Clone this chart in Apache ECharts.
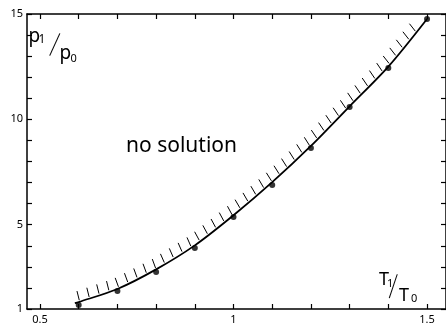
<!DOCTYPE html>
<html>
<head>
<meta charset="utf-8">
<script src="https://cdn.jsdelivr.net/npm/echarts@6/dist/echarts.min.js"></script>
<style>
html,body{margin:0;padding:0;background:#fff;}
#c{width:446px;height:326px;}
</style>
</head>
<body>
<div id="c"></div>
<script>
// measured points
const pointX = [0.6, 0.7, 0.8, 0.9, 1.0, 1.1, 1.2, 1.3, 1.4, 1.5];
const pointY = [1.19, 1.85, 2.76, 3.90, 5.37, 6.89, 8.64, 10.59, 12.44, 14.76];
// boundary curve
const curveX = [0.59, 0.6, 0.7, 0.8, 0.9, 1.0, 1.1, 1.2, 1.3, 1.4, 1.5];
const curveY = [1.28, 1.33, 1.95, 2.88, 4.02, 5.45, 7.02, 8.74, 10.62, 12.50, 14.76];
// axis ticks and labels
const xTicks = [0.5, 0.6, 0.7, 0.8, 0.9, 1.0, 1.1, 1.2, 1.3, 1.4, 1.5];
const xLabels = [0.5, 1, 1.5];
const yTicks = [1, 2, 3, 4, 5, 6, 7, 8, 9, 10, 11, 12, 13, 14, 15];
const yLabels = [1, 5, 10, 15];
const regionText = 'no solution';

const chart = echarts.init(document.getElementById('c'), null, {renderer: 'canvas'});
const FONT = 'Noto Sans';
const lineStyle = {color: '#000', width: 1.5};

function hatchRender(params, api) {
  const pts = curveX.map((x, i) => api.coord([x, curveY[i]]));
  const segs = [];
  let total = 0;
  for (let i = 1; i < pts.length; i++) {
    const dx = pts[i][0] - pts[i-1][0], dy = pts[i][1] - pts[i-1][1];
    const L = Math.hypot(dx, dy);
    segs.push({a: pts[i-1], dx, dy, L, s: total});
    total += L;
  }
  const children = [];
  const spacing = 10.4, start = 5, len = 9.5, gap = 1.5;
  for (let s = start; s < total - 10; s += spacing) {
    let seg = segs[segs.length - 1];
    for (const g of segs) { if (s >= g.s && s <= g.s + g.L) { seg = g; break; } }
    const t = (s - seg.s) / seg.L;
    const px = seg.a[0] + seg.dx * t, py = seg.a[1] + seg.dy * t;
    const slope = Math.atan2(-seg.dy, seg.dx);
    const phi = slope * 0.75;
    const ux = -Math.sin(phi), uy = -Math.cos(phi);
    children.push({
      type: 'line',
      shape: {x1: px + ux * gap, y1: py + uy * gap, x2: px + ux * (gap + len), y2: py + uy * (gap + len)},
      style: {stroke: '#000', lineWidth: 1}
    });
  }
  return {type: 'group', children};
}

function txt(x, y, s, size, extra) {
  return Object.assign({type: 'text', x, y, style: {text: s, fontFamily: FONT, fontSize: size, fill: '#000', align: 'left', verticalAlign: 'middle'}}, extra || {});
}
function slash(x, y, rot, sy) {
  return {type: 'text', x, y, scaleY: sy, rotation: rot,
    style: {text: '/', fontFamily: 'DejaVu Sans', fontWeight: 200, fontSize: 20, fill: '#000', align: 'center', verticalAlign: 'middle'}};
}

chart.setOption({
  animation: false,
  backgroundColor: '#fff',
  grid: {left: 27, right: 0, top: 14, bottom: 17},
  xAxis: [{
    type: 'value', min: 0.4664, max: 1.549, position: 'bottom',
    axisLine: {lineStyle},
    splitLine: {show: false},
    axisTick: {inside: true, length: 5, customValues: xTicks, lineStyle: {color: '#000', width: 1.2}},
    axisLabel: {customValues: xLabels, color: '#000', fontFamily: FONT, fontSize: 11, margin: 5}
  }, {
    type: 'value', min: 0.4664, max: 1.549, position: 'top',
    axisLine: {lineStyle},
    splitLine: {show: false},
    axisTick: {inside: true, length: 5, customValues: xTicks, lineStyle: {color: '#000', width: 1.2}},
    axisLabel: {show: false}
  }],
  yAxis: [{
    type: 'value', min: 1, max: 15, position: 'left',
    axisLine: {lineStyle},
    splitLine: {show: false},
    axisTick: {inside: true, length: 5, customValues: yTicks, lineStyle: {color: '#000', width: 1.2}},
    axisLabel: {customValues: yLabels, color: '#000', fontFamily: FONT, fontSize: 11, margin: 4}
  }, {
    type: 'value', min: 1, max: 15, position: 'right',
    axisLine: {lineStyle},
    splitLine: {show: false},
    axisTick: {inside: true, length: 5, customValues: yTicks, lineStyle: {color: '#000', width: 1.2}},
    axisLabel: {show: false}
  }],
  graphic: [
    txt(28.5, 37, 'p', 19),
    txt(38.5, 40, '1', 12),
    slash(54.5, 46, -0.22, 1.45),
    txt(59.5, 54, 'p', 19),
    txt(70.5, 59, '0', 11),
    txt(379, 280, 'T', 18),
    txt(387, 284, '1', 11),
    slash(393, 288, -0.12, 1.5),
    txt(399, 296, 'T', 18),
    txt(411, 299, '0', 11),
    txt(126, 146, regionText, 21)
  ],
  series: [{
    type: 'line',
    data: curveX.map((x, i) => [x, curveY[i]]),
    smooth: 0.3,
    showSymbol: false,
    lineStyle: {color: '#000', width: 1.8},
    z: 3
  }, {
    type: 'custom',
    data: [[0, 0]],
    renderItem: hatchRender,
    z: 2
  }, {
    type: 'scatter',
    data: pointX.map((x, i) => [x, pointY[i]]),
    symbolSize: 6,
    itemStyle: {color: '#000'},
    z: 4
  }]
});
</script>
</body>
</html>
